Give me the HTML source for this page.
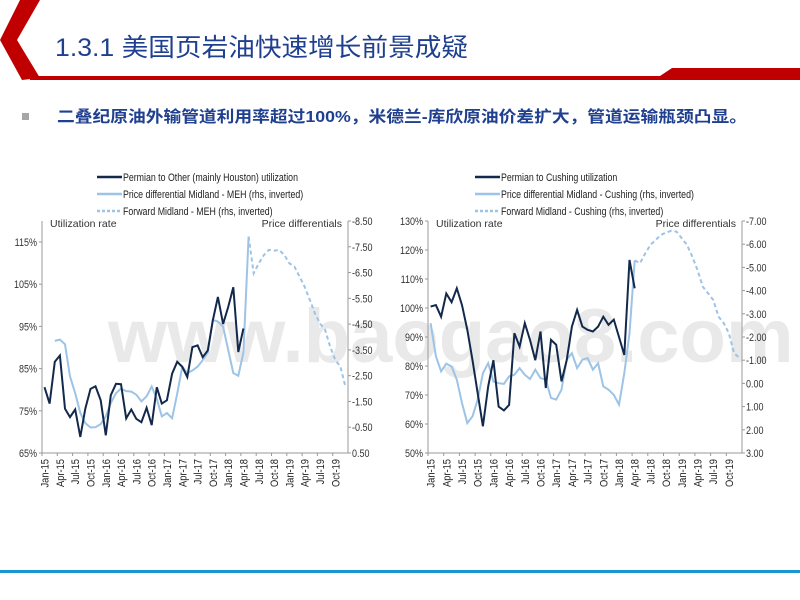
<!DOCTYPE html>
<html><head><meta charset="utf-8">
<style>
body{margin:0;width:800px;height:600px;background:#fff;overflow:hidden;font-family:"Liberation Sans","Noto Sans CJK SC",sans-serif;}
svg{position:absolute;left:0;top:0}
</style></head>
<body>
<svg id="s" width="800" height="600" xmlns="http://www.w3.org/2000/svg">
<polygon points="20,0 40,0 17,40 40,78 22,80 0,40" fill="#c00000"/>
<polygon points="30,76 660,76 672,68 800,68 800,80 30,80" fill="#c00000"/>
<text x="55" y="56" font-size="25" fill="#1f3f8f" textLength="413" lengthAdjust="spacingAndGlyphs" font-family="Liberation Sans, Noto Sans CJK SC, sans-serif">1.3.1 美国页岩油快速增长前景成疑</text>
<rect x="22" y="113" width="7" height="7" fill="#a6a6a6"/>
<text x="57" y="122" font-size="16" font-weight="bold" fill="#1f3f8f" textLength="690" lengthAdjust="spacingAndGlyphs" font-family="Liberation Sans, Noto Sans CJK SC, sans-serif">二叠纪原油外输管道利用率超过100%，米德兰-库欣原油价差扩大，管道运输瓶颈凸显。</text>
<rect x="0" y="570" width="800" height="3" fill="#1796cf"/>
<text x="108" y="362" font-size="76" font-weight="bold" fill="#e0e0e0" opacity="0.7" font-family="Liberation Sans, sans-serif">www.baogao8.com</text>
<g id="c1"></g>
<g id="c2"></g>
</svg>
<script>
const months = ["Jan","Feb","Mar","Apr","May","Jun","Jul","Aug","Sep","Oct","Nov","Dec"];
const years = ["15","16","17","18","19"];
// Chart 1
const util1 = [80.6,76.7,86.6,88.1,75.5,73.5,75.3,68.8,75.5,80.2,80.8,77.5,69.2,78.7,81.4,81.3,73.2,75.3,73.1,72.3,75.7,71.6,80.6,76.7,77.5,83.8,86.6,85.4,83,90.1,90.5,87.7,89.3,96.4,102,95.6,99.6,104.3,88.9,94.5];
const diff1Start = 2;
const diff1 = [-3.85,-3.9,-3.72,-2.47,-1.82,-1.05,-0.66,-0.49,-0.5,-0.62,-0.92,-1.43,-1.82,-2.0,-1.9,-1.88,-1.76,-1.5,-1.7,-2.08,-1.6,-0.92,-1.05,-0.85,-1.8,-2.85,-2.6,-2.7,-2.85,-3.1,-3.4,-4.66,-4.6,-4.4,-3.5,-2.6,-2.5,-3.4,-7.9];
const fwd1Start = 40;
const fwd1 = [-7.89,-6.47,-6.86,-7.18,-7.38,-7.35,-7.38,-7.18,-6.86,-6.73,-6.34,-5.95,-5.44,-4.92,-4.53,-4.28,-3.63,-3.11,-2.85,-2.08];
const leftTicks1 = ["65%","75%","85%","95%","105%","115%"];
const rightTicks1 = ["-8.50","-7.50","-6.50","-5.50","-4.50","-3.50","-2.50","-1.50","-0.50","0.50"];
// Chart 2
const util2 = [100.5,101,97,105,102,106.8,101,92.5,82,70.6,59.2,73,82,66,64.7,66.6,91.3,86.7,94.8,89,82,91.9,72.4,89,87.3,74.7,82,93.6,99.3,93.6,92.5,91.9,93.6,97,94.2,96,90,83.8,116.6,106.8];
const diff2Start = 0;
const diff2 = [-2.6,-1.17,-0.52,-0.85,-0.73,-0.16,0.85,1.71,1.42,0.7,-0.44,-0.87,-0.08,-0.01,0.02,-0.3,-0.37,-0.66,-0.37,-0.19,-0.59,-0.23,-0.16,0.63,0.7,0.27,-1.02,-1.3,-0.66,-1.02,-1.09,-0.59,-0.87,0.13,0.27,0.49,0.92,-0.44,-2.16,-5.3];
const fwd2Start = 39;
const fwd2 = [-5.3,-5.18,-5.6,-5.97,-6.18,-6.4,-6.5,-6.58,-6.54,-6.25,-5.97,-5.46,-4.89,-4.17,-3.89,-3.6,-2.88,-2.6,-2.16,-1.3,-1.1];
const rightTicks2 = ["-7.00","-6.00","-5.00","-4.00","-3.00","-2.00","-1.00","0.00","1.00","2.00","3.00"];
const leftTicks2 = ["50%","60%","70%","80%","90%","100%","110%","120%","130%"];

const NS="http://www.w3.org/2000/svg";
function mk(parent,tag,attrs){const e=document.createElementNS(NS,tag);for(const k in attrs)e.setAttribute(k,attrs[k]);parent.appendChild(e);return e;}

function chart(g,cfg){
  const xs=i=>cfg.x0+(i+0.5)*(cfg.x1-cfg.x0)/60;
  const yl=v=>cfg.yB-(v-cfg.lMin)/(cfg.lMax-cfg.lMin)*(cfg.yB-cfg.yT);
  const yr=v=>cfg.yT+(v-cfg.rMin)/(cfg.rMax-cfg.rMin)*(cfg.yB-cfg.yT);
  let e=mk(g,'line',{x1:cfg.x0,y1:cfg.yT,x2:cfg.x0,y2:cfg.yB,stroke:'#999','stroke-width':1});
  
  e=mk(g,'line',{x1:cfg.x1,y1:cfg.yT,x2:cfg.x1,y2:cfg.yB,stroke:'#999','stroke-width':1});
  
  e=mk(g,'line',{x1:cfg.x0,y1:cfg.yB,x2:cfg.x1,y2:cfg.yB,stroke:'#999','stroke-width':1});
  
  cfg.lt.forEach(t=>{const v=parseFloat(t);const y=yl(v);
    mk(g,'line',{x1:cfg.x0-3,y1:y,x2:cfg.x0,y2:y,stroke:'#999'});
    const tx=mk(g,'text',{x:cfg.x0-5,y:y+4,'font-size':11,'text-anchor':'end',fill:'#333',transform:`translate(${cfg.x0-5},0) scale(0.82,1) translate(${-(cfg.x0-5)},0)`});
    tx.textContent=t;
    });
  cfg.rt.forEach(t=>{const v=parseFloat(t);const y=yr(v);
    mk(g,'line',{x1:cfg.x1,y1:y,x2:cfg.x1+3,y2:y,stroke:'#999'});
    const tx=mk(g,'text',{x:cfg.x1+4,y:y+4,'font-size':11,fill:'#333',transform:`translate(${cfg.x1+4},0) scale(0.82,1) translate(${-(cfg.x1+4)},0)`});
    tx.textContent=t;
    });
  for(let i=0;i<60;i+=3){
    const xt=cfg.x0+i*(cfg.x1-cfg.x0)/60;
    mk(g,'line',{x1:xt,y1:cfg.yB,x2:xt,y2:cfg.yB+3,stroke:'#999'});
    const x=xs(i)+4, y=cfg.yB+6;
    const tx=mk(g,'text',{x:0,y:0,'font-size':11,'text-anchor':'end',fill:'#222',transform:`translate(${x},${y}) rotate(-90) scale(0.85,1)`});
    tx.textContent=months[i%12]+'-'+years[Math.floor(i/12)];
    
  }
  const pts=(arr,st,f)=>arr.map((v,i)=>xs(st+i).toFixed(1)+','+f(v).toFixed(1)).join(' ');
  e=mk(g,'polyline',{points:pts(cfg.diff,cfg.diffStart,yr),fill:'none',stroke:'#9dc3e6','stroke-width':2});
  
  e=mk(g,'polyline',{points:pts(cfg.fwd,cfg.fwdStart,yr),fill:'none',stroke:'#9dc3e6','stroke-width':2,'stroke-dasharray':'4,3'});
  
  e=mk(g,'polyline',{points:pts(cfg.util,0,yl),fill:'none',stroke:'#13294b','stroke-width':2});
  
  e=mk(g,'text',{x:cfg.x0+8,y:cfg.yT+6,'font-size':10.5,fill:'#333'});e.textContent='Utilization rate';
  
  e=mk(g,'text',{x:cfg.x1-6,y:cfg.yT+6,'font-size':10.5,fill:'#333','text-anchor':'end'});e.textContent='Price differentials';
  
  const L=[[cfg.leg[0],'#13294b',''],[cfg.leg[1],'#9dc3e6',''],[cfg.leg[2],'#9dc3e6','3,2']];
  L.forEach((l,k)=>{const y=cfg.legY+k*17;
    const ln=mk(g,'line',{x1:cfg.legX,y1:y,x2:cfg.legX+25,y2:y,stroke:l[1],'stroke-width':2.5,'stroke-dasharray':l[2]});
    
    const tx=mk(g,'text',{x:0,y:0,'font-size':11,fill:'#222',transform:`translate(${cfg.legX+26},${y+4}) scale(0.8,1)`});
    tx.textContent=l[0];
    });
}
chart(document.getElementById('c1'),{x0:42,x1:348,yT:221,yB:453,lMin:65,lMax:65+232/4.22,rMin:-8.5,rMax:0.5,
  lt:leftTicks1,rt:rightTicks1,util:util1,diff:diff1,diffStart:diff1Start,fwd:fwd1,fwdStart:fwd1Start,
  legX:97,legY:177,leg:["Permian to Other (mainly Houston) utilization","Price differential Midland - MEH (rhs, inverted)","Forward Midland - MEH (rhs, inverted)"]});
chart(document.getElementById('c2'),{x0:428,x1:742,yT:221,yB:453,lMin:50,lMax:130,rMin:-7,rMax:3,
  lt:leftTicks2,rt:rightTicks2,util:util2,diff:diff2,diffStart:diff2Start,fwd:fwd2,fwdStart:fwd2Start,
  legX:475,legY:177,leg:["Permian to Cushing utilization","Price differential Midland - Cushing (rhs, inverted)","Forward Midland - Cushing (rhs, inverted)"]});
</script>
</body></html>
